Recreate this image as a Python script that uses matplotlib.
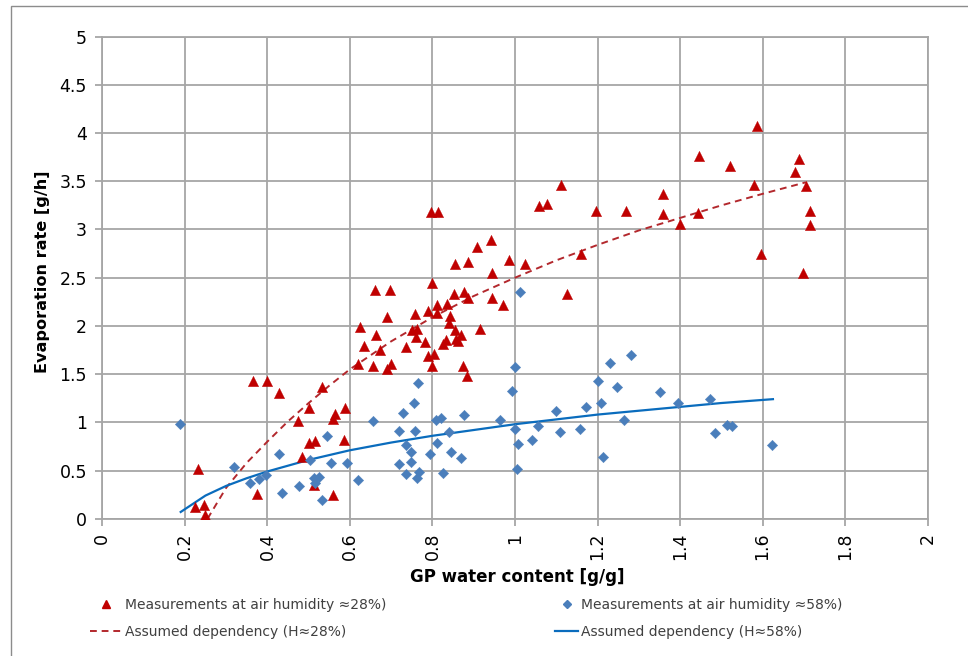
import matplotlib
matplotlib.use("Agg")
import matplotlib.pyplot as plt
from matplotlib.lines import Line2D
from matplotlib.patches import Rectangle

# ---- data: measurements at air humidity ~28% (red triangles) ----
h28_x = [0.366, 0.400, 0.427, 0.233, 0.225, 0.246, 0.250, 0.375, 0.474, 0.500,
         0.533, 0.563, 0.560, 0.587, 0.500, 0.516, 0.485, 0.585, 0.514, 0.558,
         0.854, 0.887, 0.945, 0.985, 1.024, 1.125, 0.660, 0.696, 0.800, 0.853,
         0.876, 0.886, 0.945, 0.970, 0.810, 0.836, 0.790, 0.812, 0.843, 0.840,
         0.855, 0.868, 0.862, 0.858, 0.914, 0.757, 0.690, 0.625, 0.664, 0.633,
         0.672, 0.750, 0.763, 0.759, 0.735, 0.783, 0.826, 0.834, 0.790, 0.804,
         0.800, 0.875, 0.884, 0.620, 0.657, 0.690, 0.700, 1.111, 1.058, 1.077,
         1.196, 1.268, 0.797, 0.813, 0.941, 0.908, 1.159, 1.586, 1.445, 1.522,
         1.689, 1.678, 1.580, 1.705, 1.358, 1.358, 1.443, 1.400, 1.596, 1.698,
         1.715, 1.715]
h28_y = [1.43, 1.43, 1.30, 0.52, 0.12, 0.14, 0.04, 0.26, 1.01, 1.15,
         1.37, 1.09, 1.03, 1.15, 0.79, 0.81, 0.64, 0.82, 0.35, 0.25,
         2.64, 2.66, 2.55, 2.68, 2.64, 2.33, 2.37, 2.37, 2.44, 2.33,
         2.35, 2.29, 2.29, 2.22, 2.22, 2.23, 2.15, 2.13, 2.10, 2.03,
         1.96, 1.91, 1.84, 1.86, 1.97, 2.12, 2.09, 1.99, 1.91, 1.79,
         1.75, 1.96, 1.97, 1.88, 1.78, 1.83, 1.81, 1.85, 1.69, 1.71,
         1.58, 1.58, 1.48, 1.60, 1.58, 1.55, 1.60, 3.46, 3.24, 3.26,
         3.19, 3.19, 3.18, 3.18, 2.89, 2.82, 2.75, 4.07, 3.76, 3.66,
         3.73, 3.60, 3.46, 3.45, 3.37, 3.16, 3.17, 3.06, 2.75, 2.55,
         3.19, 3.05]

# ---- data: measurements at air humidity ~58% (blue diamonds) ----
h58_x = [0.189, 0.318, 0.358, 0.380, 0.397, 0.427, 0.435, 0.476, 0.504, 0.512,
         0.524, 0.516, 0.532, 0.545, 0.554, 0.593, 0.620, 0.655, 0.718, 0.735,
         0.728, 0.720, 0.736, 0.749, 0.748, 0.755, 0.757, 0.765, 0.763, 0.767,
         0.795, 0.809, 0.820, 0.812, 0.825, 0.840, 0.844, 0.870, 0.876, 0.963,
         0.992, 0.999, 0.999, 1.008, 1.004, 1.012, 1.040, 1.055, 1.100, 1.110,
         1.158, 1.171, 1.202, 1.208, 1.214, 1.230, 1.247, 1.263, 1.280, 1.352,
         1.396, 1.473, 1.484, 1.513, 1.527, 1.623]
h58_y = [0.985, 0.54, 0.37, 0.41, 0.45, 0.67, 0.27, 0.34, 0.61, 0.42,
         0.43, 0.37, 0.19, 0.86, 0.575, 0.575, 0.40, 1.01, 0.91, 0.765,
         1.10, 0.565, 0.46, 0.695, 0.59, 1.20, 0.91, 1.41, 0.42, 0.48,
         0.67, 1.02, 1.04, 0.79, 0.47, 0.90, 0.695, 0.63, 1.075, 1.02,
         1.325, 1.57, 0.93, 0.77, 0.515, 2.355, 0.82, 0.96, 1.12, 0.90,
         0.93, 1.16, 1.43, 1.20, 0.64, 1.61, 1.37, 1.02, 1.70, 1.31,
         1.20, 1.24, 0.89, 0.97, 0.965, 0.765]

# ---- assumed dependency curves ----
fit28_x = [0.255, 0.30, 0.35, 0.40, 0.45, 0.50, 0.55, 0.60, 0.70, 0.80, 0.90,
           1.00, 1.10, 1.20, 1.30, 1.40, 1.50, 1.60, 1.705]
fit28_y = [0.00, 0.32, 0.58, 0.80, 1.01, 1.20, 1.38, 1.55, 1.84, 2.09, 2.31,
           2.50, 2.68, 2.84, 2.99, 3.12, 3.25, 3.37, 3.49]
fit58_x = [0.19, 0.25, 0.30, 0.35, 0.40, 0.50, 0.60, 0.70, 0.80, 0.90, 1.00,
           1.10, 1.20, 1.30, 1.40, 1.50, 1.625]
fit58_y = [0.07, 0.24, 0.34, 0.42, 0.49, 0.61, 0.71, 0.79, 0.86, 0.92, 0.98,
           1.03, 1.08, 1.12, 1.16, 1.20, 1.24]

x_ticks = [0, 0.2, 0.4, 0.6, 0.8, 1, 1.2, 1.4, 1.6, 1.8, 2]
x_tick_labels = ["0", "0.2", "0.4", "0.6", "0.8", "1", "1.2", "1.4", "1.6", "1.8", "2"]
y_ticks = [0, 0.5, 1, 1.5, 2, 2.5, 3, 3.5, 4, 4.5, 5]
y_tick_labels = ["0", "0.5", "1", "1.5", "2", "2.5", "3", "3.5", "4", "4.5", "5"]

label_t28 = "Measurements at air humidity \u224828%)"
label_t58 = "Measurements at air humidity \u224858%)"
label_f28 = "Assumed dependency (H\u224828%)"
label_f58 = "Assumed dependency (H\u224858%)"

RED = "#C00000"
BLUE = "#4A7EBB"
DASH_RED = "#B3282D"
LINE_BLUE = "#0A6CBD"
GRID = "#A6A6A6"

plt.rcParams['font.family'] = ['DejaVu Sans']

W, H = 968, 656
fig = plt.figure(figsize=(W / 100, H / 100), dpi=100)
fig.patch.set_facecolor("white")

# outer chart border
fig.patches.append(Rectangle((11 / W, -0.05), 1.2, (1 - 6 / H) + 0.05,
                             transform=fig.transFigure, fill=False,
                             edgecolor="#8C8C8C", linewidth=1.0))

ax = fig.add_axes([102.3 / W, 1 - 518.7 / H, (927.7 - 102.3) / W, (518.7 - 36.7) / H])
ax.set_xlim(0, 2)
ax.set_ylim(0, 5)
ax.set_xticks(x_ticks)
ax.set_xticklabels(x_tick_labels, rotation=90, fontsize=12.5)
ax.set_yticks(y_ticks)
ax.set_yticklabels(y_tick_labels, fontsize=12.5)
ax.grid(True, color=GRID, linewidth=1.3)
ax.set_axisbelow(True)
for s in ax.spines.values():
    s.set_color(GRID)
    s.set_linewidth(1.3)
ax.tick_params(axis='both', color=GRID, length=5, width=1.3, direction='out')
ax.tick_params(axis='y', pad=6)
ax.tick_params(axis='x', pad=5)

ax.plot(fit28_x, fit28_y, color=DASH_RED, linewidth=1.4, linestyle=(0, (3.5, 2.5)), zorder=3)
ax.plot(fit58_x, fit58_y, color=LINE_BLUE, linewidth=1.6, zorder=3)
ax.scatter(h28_x, h28_y, marker='^', s=55, color=RED, edgecolors=RED, linewidths=0.3, zorder=4)
ax.scatter(h58_x, h58_y, marker='D', s=28, color=BLUE, edgecolors=BLUE, linewidths=0.3, zorder=4)

fig.text(43 / W, 1 - 272 / H, "Evaporation rate [g/h]", rotation=90, ha='center', va='center',
         fontsize=11.6, fontweight='bold')
fig.text(517 / W, 1 - 577 / H, "GP water content [g/g]", ha='center', va='center',
         fontsize=12, fontweight='bold')

h_t28 = Line2D([], [], marker='^', linestyle='none', color=RED, markersize=6)
h_f28 = Line2D([], [], color=DASH_RED, linewidth=1.4, linestyle=(0, (3.5, 2.5)))
h_t58 = Line2D([], [], marker='D', linestyle='none', color=BLUE, markersize=4)
h_f58 = Line2D([], [], color=LINE_BLUE, linewidth=1.6)

leg_size = 10.0
px_per_em = leg_size * 100 / 72.0
leg_kw = dict(frameon=False, handletextpad=0.25,
              labelspacing=0.92,
              borderaxespad=0, borderpad=0, labelcolor="#404040",
              prop={'family': ['DejaVu Sans'], 'size': leg_size})
leg1 = fig.legend([h_t28, h_f28], [label_t28, label_f28], loc='upper left',
                  handlelength=32 / px_per_em,
                  bbox_to_anchor=(90 / W, 1 - 598 / H), **leg_kw)
leg2 = fig.legend([h_t58, h_f58], [label_t58, label_f58], loc='upper left',
                  handlelength=23 / px_per_em,
                  bbox_to_anchor=(555 / W, 1 - 598 / H), **leg_kw)

fig.savefig("out.png", dpi=100)
